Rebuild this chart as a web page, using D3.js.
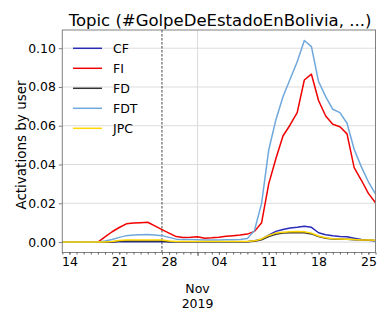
<!DOCTYPE html>
<html>
<head>
<meta charset="utf-8">
<script src="https://cdn.jsdelivr.net/npm/d3@7"></script>
<style>
  body { margin: 0; background: #fff; }
  text { font-family: "DejaVu Sans", sans-serif; fill: #000; }
</style>
</head>
<body>
<div id="chart"></div>
<script>
// daily values, Oct 13 2019 .. Nov 26 2019
var startDate = "2019-10-13";
var seriesNames = ["CF", "FI", "FD", "FDT", "JPC"];
var seriesColors = ["#2b2bb8", "#f00000", "#333333", "#6fa8dc", "#ffd700"];

var CF = [0,0,0,0,0,0,0,0,0.0002,0.0002,0.0002,0.0002,0.0002,0.0002,0.0002,0.0002,
  0.0001,0.0001,0.0001,0.0001,0.0001,0.0001,0.0001,0.0001,0.0001,0.0001,0.0001,
  0.0007,0.0015,0.0035,0.0055,0.0065,0.0072,0.0076,0.0082,0.0076,0.0048,0.0038,
  0.0032,0.0029,0.0027,0.0020,0.0013,0.0009,0.0007];
var FI = [0,0,0,0,0,0,0.0027,0.0053,0.0075,0.0094,0.0098,0.0100,0.0102,0.0083,0.0064,
  0.0046,0.0028,0.0024,0.0025,0.0027,0.0020,0.0022,0.0025,0.0030,0.0033,0.0036,0.0041,
  0.0055,0.0100,0.0300,0.0430,0.0547,0.0604,0.0668,0.0836,0.0866,0.0730,0.0650,
  0.0608,0.0595,0.0558,0.0384,0.0320,0.0251,0.0203];
var FD = [0,0,0,0,0,0,0,0,0.0005,0.0005,0.0005,0.0005,0.0005,0.0005,0.0005,
  0.0002,0.0002,0.0002,0.0002,0.0002,0.0002,0.0002,0.0002,0.0002,0.0002,0.0002,0.0002,
  0.0004,0.0012,0.0028,0.0040,0.0046,0.0048,0.0049,0.0048,0.0042,0.0028,0.0020,
  0.0016,0.0015,0.0014,0.0012,0.0010,0.0009,0.0008];
var FDT = [0,0,0,0,0,0,0.0005,0.0013,0.0024,0.0033,0.0036,0.0038,0.0039,0.0036,0.0033,
  0.0024,0.0015,0.0013,0.0013,0.0012,0.0011,0.0011,0.0011,0.0012,0.0012,0.0013,0.0018,
  0.0060,0.0200,0.0475,0.0630,0.0750,0.0840,0.0930,0.1040,0.1008,0.0828,0.0750,
  0.0685,0.0668,0.0613,0.0479,0.0389,0.0311,0.0248];
var JPC = [0,0,0,0,0,0,0,0.0003,0.0008,0.0010,0.0010,0.0010,0.0010,0.0010,0.0010,
  0.0005,0.0003,0.0003,0.0003,0.0003,0.0003,0.0003,0.0003,0.0003,0.0003,0.0003,0.0003,
  0.0006,0.0016,0.0034,0.0046,0.0051,0.0053,0.0054,0.0053,0.0046,0.0031,0.0022,
  0.0017,0.0016,0.0015,0.0013,0.0011,0.0010,0.0009];

var yTicks = [0, 0.02, 0.04, 0.06, 0.08, 0.10];
var markerDate = "2019-10-27";
var titleText = "Topic (#GolpeDeEstadoEnBolivia, ...)";
var yLabel = "Activations by user";

var width = 392, height = 327;
var mLeft = 62.3, mRight = 375.5, mTop = 30, mBottom = 252.5;

var svg = d3.select("#chart").append("svg")
  .attr("width", width)
  .attr("height", height);

var parse = d3.utcParse("%Y-%m-%d");
var t0 = parse(startDate);
var dates = CF.map(function(d, i) { return d3.utcDay.offset(t0, i); });

var x = d3.scaleUtc()
  .domain([dates[0], dates[dates.length - 1]])
  .range([mLeft, mRight]);
var y = d3.scaleLinear()
  .domain([-0.0054, 0.1094])
  .range([mBottom, mTop]);

// grid
svg.append("g").selectAll("line")
  .data(yTicks).enter().append("line")
    .attr("x1", mLeft).attr("x2", mRight)
    .attr("y1", function(d) { return y(d); })
    .attr("y2", function(d) { return y(d); })
    .attr("stroke", "#d8d8d8").attr("stroke-width", 0.9);
var monthTick = parse("2019-11-01");
svg.append("line")
  .attr("x1", x(monthTick)).attr("x2", x(monthTick))
  .attr("y1", mTop).attr("y2", mBottom)
  .attr("stroke", "#d8d8d8").attr("stroke-width", 0.9);

// event marker
svg.append("line")
  .attr("x1", x(parse(markerDate))).attr("x2", x(parse(markerDate)))
  .attr("y1", mTop).attr("y2", mBottom)
  .attr("stroke", "#444").attr("stroke-width", 1)
  .attr("stroke-dasharray", "2.5,1.5");

// lines
var allSeries = [CF, FI, FD, FDT, JPC];
var line = d3.line()
  .x(function(d, i) { return x(dates[i]); })
  .y(function(d) { return y(d); });
svg.append("g").selectAll("path")
  .data(allSeries).enter().append("path")
    .attr("d", line)
    .attr("fill", "none")
    .attr("stroke", function(d, i) { return seriesColors[i]; })
    .attr("stroke-width", 1.5)
    .attr("stroke-linejoin", "round");

// frame
svg.append("rect")
  .attr("x", mLeft).attr("y", mTop)
  .attr("width", mRight - mLeft).attr("height", mBottom - mTop)
  .attr("fill", "none").attr("stroke", "#808080").attr("stroke-width", 1);

// y axis
var yAxis = svg.append("g")
  .attr("transform", "translate(" + mLeft + ",0)")
  .call(d3.axisLeft(y).tickValues(yTicks).tickFormat(d3.format(".2f")).tickSize(3.5).tickPadding(3));
yAxis.select(".domain").remove();
yAxis.selectAll("line").attr("stroke", "#808080");
yAxis.selectAll("text").style("font-size", "12.4px").style("font-family", "DejaVu Sans");

svg.append("text")
  .attr("transform", "translate(21,145) rotate(-90)")
  .attr("text-anchor", "middle")
  .attr("dominant-baseline", "central")
  .style("font-size", "13.5px")
  .text(yLabel);

// x axis: daily minor ticks, weekly labels, month major tick
var xg = svg.append("g").attr("transform", "translate(0," + mBottom + ")");
xg.call(d3.axisBottom(x).ticks(d3.utcDay.every(1)).tickFormat("").tickSize(2));
xg.select(".domain").remove();
xg.selectAll("line").attr("stroke", "#606060");

var weekly = d3.utcMonday.range(dates[0], d3.utcDay.offset(dates[dates.length - 1], 1));
var xw = svg.append("g").attr("transform", "translate(0," + mBottom + ")");
xw.call(d3.axisBottom(x).tickValues(weekly).tickFormat(d3.utcFormat("%d")).tickSize(2).tickPadding(2.5));
xw.select(".domain").remove();
xw.selectAll("line").attr("stroke", "#606060");
xw.selectAll("text").style("font-size", "12.5px").style("font-family", "DejaVu Sans");

var xm = svg.append("g").attr("transform", "translate(0," + mBottom + ")");
xm.call(d3.axisBottom(x).tickValues([monthTick]).tickFormat("").tickSize(3.5));
xm.select(".domain").remove();
xm.selectAll("line").attr("stroke", "#606060");
var mlab = svg.append("text")
  .attr("x", x(monthTick))
  .attr("text-anchor", "middle")
  .style("font-size", "12.5px");
mlab.append("tspan").attr("x", x(monthTick)).attr("y", 293).text(d3.utcFormat("%b")(monthTick));
mlab.append("tspan").attr("x", x(monthTick)).attr("y", 307.5).text(d3.utcFormat("%Y")(monthTick));

// title
svg.append("text")
  .attr("x", 220)
  .attr("y", 26)
  .attr("text-anchor", "middle")
  .style("font-size", "16.5px")
  .text(titleText);

// legend
var legend = svg.append("g").attr("transform", "translate(73,48.3)");
var items = legend.selectAll("g")
  .data(seriesNames).enter().append("g")
    .attr("transform", function(d, i) { return "translate(0," + (i * 20) + ")"; });
items.append("line")
  .attr("x1", 0).attr("x2", 29)
  .attr("stroke", function(d, i) { return seriesColors[i]; })
  .attr("stroke-width", 1.5);
items.append("text")
  .attr("x", 40)
  .attr("dy", "0.36em")
  .style("font-size", "12.5px")
  .text(function(d) { return d; });
</script>
</body>
</html>
